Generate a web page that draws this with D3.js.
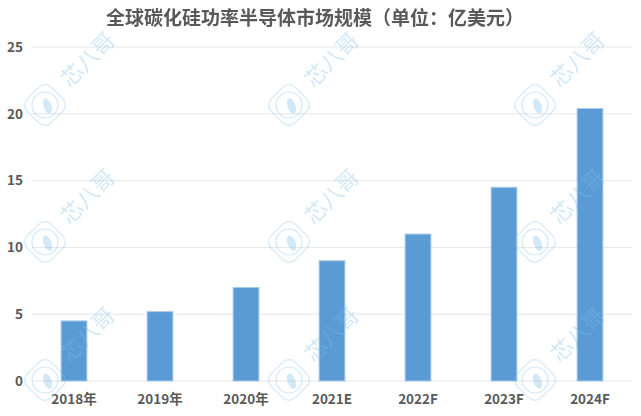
<!DOCTYPE html>
<html><head><meta charset="utf-8">
<script src="https://cdn.jsdelivr.net/npm/d3@7"></script>
<style>body{margin:0;background:#fff}svg{display:block}</style>
</head><body>
<script>
const categories = ["2018年","2019年","2020年","2021E","2022F","2023F","2024F"];
const values = [4.5, 5.2, 7.0, 9.0, 11.0, 14.5, 20.4];
const yTicks = [0, 5, 10, 15, 20, 25];
const title = "全球碳化硅功率半导体市场规模（单位：亿美元）";
const watermarkText = "芯八哥";

const W = 641, H = 416;
const svg = d3.select("body").append("svg").attr("width", W).attr("height", H);
const font = "'Noto Sans CJK SC','Noto Sans',sans-serif";

const x = d3.scaleBand().domain(categories).range([31, 633]).paddingInner(0.7).paddingOuter(0.35);
const y = d3.scaleLinear().domain([0, 25]).range([381, 47]);

// grid
svg.append("g").selectAll("line").data(yTicks).join("line")
  .attr("x1", 32).attr("x2", 632)
  .attr("y1", d => y(d)).attr("y2", d => y(d))
  .attr("stroke", "#e6e6e6").attr("stroke-width", 1);

// y axis labels
const yAxis = d3.axisLeft(y).tickValues(yTicks).tickSize(0).tickPadding(8);
const ga = svg.append("g").attr("transform", "translate(31,0)").call(yAxis);
ga.select(".domain").remove();
ga.selectAll("text").attr("font-family", font).attr("font-size", 13.5).attr("font-weight", "bold").attr("fill", "#595959");

// bars
svg.append("g").selectAll("rect").data(values).join("rect")
  .attr("x", (d, i) => x(categories[i]))
  .attr("width", x.bandwidth())
  .attr("y", d => y(d))
  .attr("height", d => y(0) - y(d))
  .attr("fill", "#5b9bd5")
  .attr("stroke", "#a9cbea").attr("stroke-width", 1);

// x axis labels
const xAxis = d3.axisBottom(x).tickSize(0).tickPadding(8);
const gx = svg.append("g").attr("transform", "translate(0,386)").call(xAxis);
gx.select(".domain").remove();
gx.selectAll("text").attr("font-family", font).attr("font-size", 13.5).attr("font-weight", "bold").attr("fill", "#595959");

// watermark
const wmCols = [45, 289, 535], wmRows = [105, 242, 380];
const wm = svg.append("g").attr("opacity", 0.35).attr("pointer-events", "none");
wmCols.forEach(cx => wmRows.forEach(cy => {
  const g = wm.append("g").attr("transform", `translate(${cx},${cy})`);
  g.append("rect").attr("x", -17).attr("y", -17).attr("width", 34).attr("height", 34).attr("rx", 9)
    .attr("transform", "rotate(45)").attr("fill", "none").attr("stroke", "#7fbde8").attr("stroke-width", 1.2);
  g.append("circle").attr("r", 13).attr("fill", "none").attr("stroke", "#7fbde8").attr("stroke-width", 1.2);
  g.append("ellipse").attr("cx", 2).attr("cy", 2).attr("rx", 4).attr("ry", 8).attr("transform", "rotate(-20)").attr("fill", "#7fbde8");
  g.append("text").attr("transform", "translate(44,-44) rotate(-45)")
    .attr("text-anchor", "middle").attr("dominant-baseline", "middle")
    .attr("font-family", font).attr("font-size", 22).attr("fill", "#7fbde8")
    .text(watermarkText);
}));

// title
svg.append("text").attr("x", 315).attr("y", 25).attr("text-anchor", "middle")
  .attr("font-family", font).attr("font-size", 19).attr("font-weight", "bold").attr("fill", "#595959")
  .text(title);
</script>
</body></html>
